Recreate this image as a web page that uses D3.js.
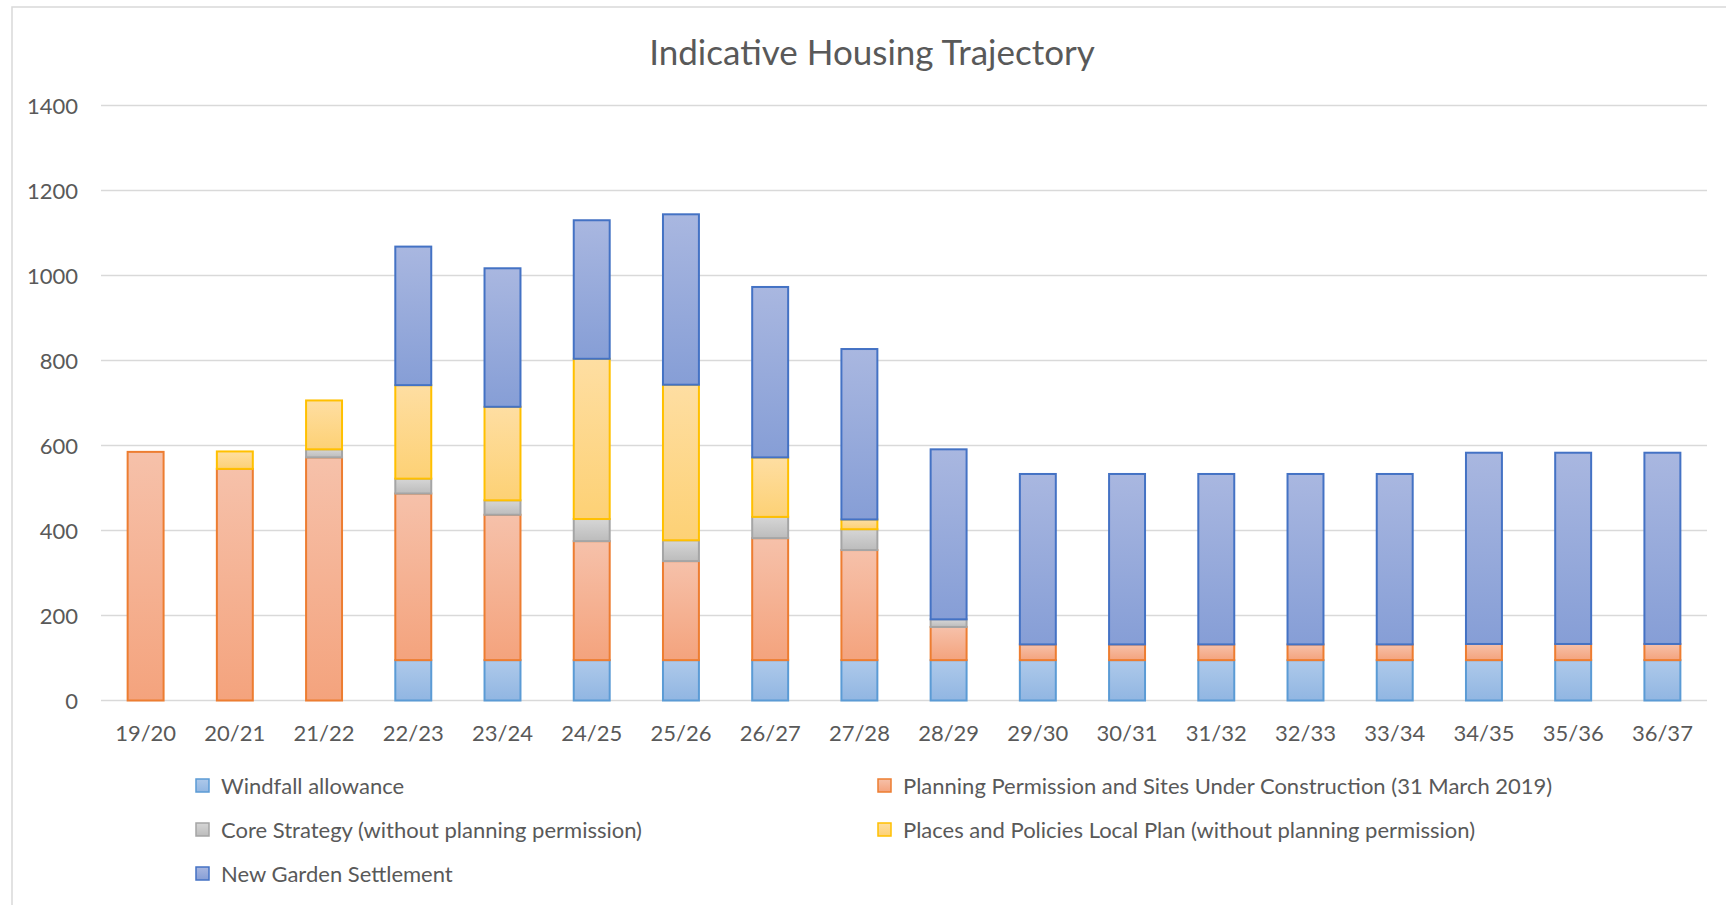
<!DOCTYPE html>
<html>
<head>
<meta charset="utf-8">
<script src="https://cdn.jsdelivr.net/npm/d3@7"></script>
<style>
  body { margin: 0; background: #fff; }
  #chart { width: 1726px; height: 905px; }
  text { font-family: Lato, "Open Sans", sans-serif; fill: #595959; }
</style>
</head>
<body>
<div id="chart"></div>
<script>
// Data
const years = ["19/20","20/21","21/22","22/23","23/24","24/25","25/26","26/27","27/28",
               "28/29","29/30","30/31","31/32","32/33","33/34","34/35","35/36","36/37"];
const windfall = [0,0,0,95,95,95,95,95,95,95,95,95,95,95,95,95,95,95];
const planning = [585,545,572,392,342,280,233,287,259,78,37,37,37,37,37,38,38,38];
const coreStrategy = [0,0,19,35,34,52,49,50,49,18,0,0,0,0,0,0,0,0];
const placesPolicies = [0,41,115,220,220,377,366,140,23,0,0,0,0,0,0,0,0,0];
const gardenSettlement = [0,0,0,326,326,326,401,401,401,400,401,401,401,401,401,450,450,450];

const seriesNames = [
  "Windfall allowance",
  "Planning Permission and Sites Under Construction (31 March 2019)",
  "Core Strategy (without planning permission)",
  "Places and Policies Local Plan (without planning permission)",
  "New Garden Settlement"
];
const yTicks = [0,200,400,600,800,1000,1200,1400];

// colours: stroke, gradient top, gradient bottom
const colours = [
  {stroke: "#5b9bd5", top: "#aec9ea", bottom: "#91b6e2"},
  {stroke: "#ed7d31", top: "#f6c1aa", bottom: "#f4a37d"},
  {stroke: "#a5a5a5", top: "#d6d6d6", bottom: "#bcbcbc"},
  {stroke: "#ffc000", top: "#fedea2", bottom: "#fdd175"},
  {stroke: "#4472c4", top: "#a9b7e0", bottom: "#869ed6"}
];

const width = 1726, height = 905;
const margin = {left: 101, right: 19, top: 106, bottom: 205};

const svg = d3.select("#chart")
  .append("svg")
  .attr("width", width)
  .attr("height", height);

// gradients
const defs = svg.append("defs");
colours.forEach((c, i) => {
  const g = defs.append("linearGradient")
    .attr("id", "grad" + i)
    .attr("x1", 0).attr("y1", 0).attr("x2", 0).attr("y2", 1);
  g.append("stop").attr("offset", "0%").attr("stop-color", c.top);
  g.append("stop").attr("offset", "100%").attr("stop-color", c.bottom);
});

// chart area border (right and bottom edges run off the page)
svg.append("rect")
  .attr("x", 12).attr("y", 7)
  .attr("width", 1720).attr("height", 920)
  .attr("fill", "none")
  .attr("stroke", "#d9d9d9")
  .attr("stroke-width", 1.5);

svg.append("text")
  .attr("x", 872)
  .attr("y", 65)
  .attr("text-anchor", "middle")
  .style("font-size", "35px")
  .text("Indicative Housing Trajectory");

const x = d3.scaleBand()
  .domain(years)
  .range([margin.left, width - margin.right])
  .paddingInner(0.597)
  .paddingOuter(0.2985);

const y = d3.scaleLinear()
  .domain([0, 1400])
  .range([700.5, 105.5]);

// gridlines
svg.append("g")
  .selectAll("line")
  .data(yTicks)
  .join("line")
    .attr("x1", margin.left)
    .attr("x2", width - margin.right)
    .attr("y1", d => y(d))
    .attr("y2", d => y(d))
    .attr("stroke", "#d9d9d9")
    .attr("stroke-width", 1.5);

// y axis labels
const yAxis = svg.append("g")
  .attr("transform", `translate(${margin.left - 23},0)`)
  .call(d3.axisLeft(y).tickValues(yTicks).tickFormat(d3.format("d")).tickSize(0).tickPadding(0));
yAxis.select(".domain").remove();
yAxis.selectAll("text")
  .style("font-size", "22px")
  .style("font-family", "Lato, sans-serif")
  .attr("fill", "#595959")
  .attr("dy", "0.36em");

// x axis labels
const xAxis = svg.append("g")
  .attr("transform", `translate(0,${y(0)})`)
  .call(d3.axisBottom(x).tickSize(0).tickPadding(0));
xAxis.select(".domain").remove();
xAxis.selectAll("text")
  .style("font-size", "22px")
  .style("font-family", "Lato, sans-serif")
  .attr("fill", "#595959")
  .attr("dy", 0)
  .attr("y", 40);

// stacked bars
const rows = years.map((yr, i) => ({
  year: yr,
  s0: windfall[i], s1: planning[i], s2: coreStrategy[i], s3: placesPolicies[i], s4: gardenSettlement[i]
}));
const stack = d3.stack().keys(["s0","s1","s2","s3","s4"]);
const layers = stack(rows);

svg.append("g")
  .selectAll("g")
  .data(layers)
  .join("g")
    .attr("fill", (d, i) => `url(#grad${i})`)
    .attr("stroke", (d, i) => colours[i].stroke)
    .attr("stroke-width", 2)
  .selectAll("rect")
  .data(d => d.filter(p => p[1] - p[0] > 0))
  .join("rect")
    .attr("x", d => x(d.data.year))
    .attr("width", x.bandwidth())
    .attr("y", d => y(d[1]))
    .attr("height", d => y(d[0]) - y(d[1]));

// legend
const legendPos = [[202, 786], [884, 786], [202, 830], [884, 830], [202, 874]];
const legend = svg.append("g")
  .selectAll("g")
  .data(seriesNames)
  .join("g")
    .attr("transform", (d, i) => `translate(${legendPos[i][0]},${legendPos[i][1]})`);
legend.append("rect")
  .attr("x", -6).attr("y", -7)
  .attr("width", 13).attr("height", 13)
  .attr("fill", (d, i) => `url(#grad${i})`)
  .attr("stroke", (d, i) => colours[i].stroke)
  .attr("stroke-width", 1.5);
legend.append("text")
  .attr("x", 19)
  .attr("y", 8)
  .style("font-size", "22px")
  .text(d => d);
</script>
</body>
</html>
